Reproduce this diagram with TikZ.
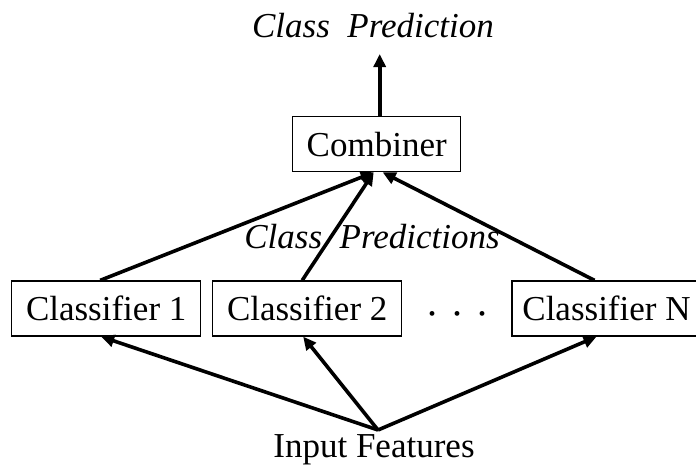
\documentclass[tikz,border=0pt]{standalone}
\usepackage{fontspec}
\setmainfont{Liberation Serif}
\usetikzlibrary{arrows.meta}
\newcommand{\bigtxt}{\fontsize{35}{42}\selectfont}
\tikzset{clf/.style={draw,line width=1.3pt,minimum width=189pt,minimum height=55pt,inner sep=0pt,font=\bigtxt},
 comb/.style={clf,minimum width=168pt},
 lbl/.style={inner sep=0pt,anchor=base,font=\bigtxt\itshape},
 arr/.style={line width=3.6pt,-{Triangle[length=13pt,width=12pt]}}}

\begin{document}
\begin{tikzpicture}[x=1pt,y=-1pt]
\useasboundingbox (0,0) rectangle (696,466);
\node[comb](cmb) at(376.7,144.2){Combiner};
\node[clf](c1) at(106.2,308.5){Classifier 1};
\node[clf](c2) at(307.2,308.5){Classifier 2};
\node[clf](cn) at(606.5,308.5){Classifier N};
\node[font=\fontsize{20}{22}\selectfont](dots) at(457,316){\textbullet\hspace{18pt}\textbullet\hspace{18pt}\textbullet};
\node[lbl](pred) at(373,37){Class\hspace{0.5em}Prediction};
\node[lbl,font=\bigtxt\upshape](inp) at(374,457){Input Features};
\coordinate(fan) at(378,430);
\draw[arr]([xshift=3pt]cmb.north)--++(0,-62);
\draw[arr]([xshift=-6pt]c1.north)--([xshift=-3pt]cmb.south);
\draw[arr]([xshift=-5pt]c2.north)--([xshift=-3pt]cmb.south);
\draw[arr]([xshift=-12pt]cn.north)--([xshift=6pt]cmb.south);
\draw[arr](fan)--([xshift=-5pt]c1.south);
\draw[arr](fan)--([xshift=-4pt]c2.south);
\draw[arr](fan)--([xshift=-10pt]cn.south);
\node[lbl](preds) at(372,248){Class\hspace{0.5em}Predictions};
\end{tikzpicture}
\end{document}
